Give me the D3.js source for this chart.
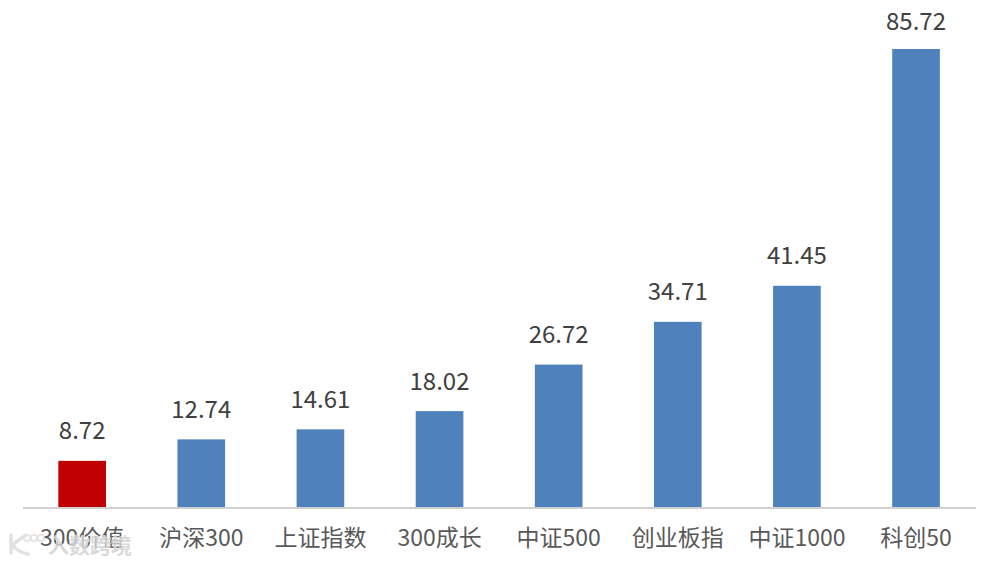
<!DOCTYPE html>
<html><head><meta charset="utf-8">
<script src="https://cdn.jsdelivr.net/npm/d3@7"></script>
<style>html,body{margin:0;background:#fff}svg{display:block}</style></head>
<body><svg id="c" width="998" height="564"></svg>
<script>
const categories=["300价值","沪深300","上证指数","300成长","中证500","创业板指","中证1000","科创50"];
const values=[8.72,12.74,14.61,18.02,26.72,34.71,41.45,85.72];
const labels=["8.72","12.74","14.61","18.02","26.72","34.71","41.45","85.72"];
const colors=["#c00000","#4f81bd","#4f81bd","#4f81bd","#4f81bd","#4f81bd","#4f81bd","#4f81bd"];
const watermark="入数跨境";
const font='"Noto Sans CJK SC","Open Sans",sans-serif';
const svg=d3.select("#c");
const x=d3.scaleBand().domain(categories).range([22.6,975.6]).paddingInner(0.6).paddingOuter(0.3);
const y=d3.scaleLinear().domain([0,85.72]).range([507.5,49]);
svg.selectAll("rect").data(categories).join("rect")
 .attr("x",d=>x(d)).attr("width",x.bandwidth())
 .attr("y",(d,i)=>y(values[i])).attr("height",(d,i)=>507.5-y(values[i]))
 .attr("fill",(d,i)=>colors[i]);
svg.append("line").attr("x1",23).attr("x2",976).attr("y1",508).attr("y2",508).attr("stroke","#d0d0d0").attr("stroke-width",2);
svg.selectAll(".v").data(categories).join("text").attr("class","v")
 .attr("x",d=>x(d)+x.bandwidth()/2).attr("y",(d,i)=>Math.max(y(values[i])-21.5,29.5))
 .attr("text-anchor","middle").attr("font-family",font).attr("font-size",24).attr("fill","#404040")
 .text((d,i)=>labels[i]);
svg.selectAll(".c").data(categories).join("text").attr("class","c")
 .attr("x",d=>x(d)+x.bandwidth()/2).attr("y",546)
 .attr("text-anchor","middle").attr("font-family",font).attr("font-size",23).attr("fill","#595959")
 .text(d=>d);
// watermark: logo strokes and text, light grey with white halo
const wm=svg.append("g").attr("opacity",0.85);
wm.append("path").attr("d","M11 535V553M26 535Q15 542 13 545Q17 552 28 554")
 .attr("fill","none").attr("stroke","#ddd").attr("stroke-width",3.5).attr("stroke-linecap","round");
wm.selectAll("circle").data([0,1,2]).join("circle")
 .attr("cx",d=>27+d*7).attr("cy",538).attr("r",3.2)
 .attr("fill","none").attr("stroke","#ddd").attr("stroke-width",1.6);
wm.append("text").attr("x",48).attr("y",553).attr("font-family",font).attr("font-size",21).attr("font-weight",700)
 .attr("fill","#d4d4d4").attr("stroke","#fff").attr("stroke-width",0.8).attr("paint-order","stroke").text(watermark);
</script></body></html>
